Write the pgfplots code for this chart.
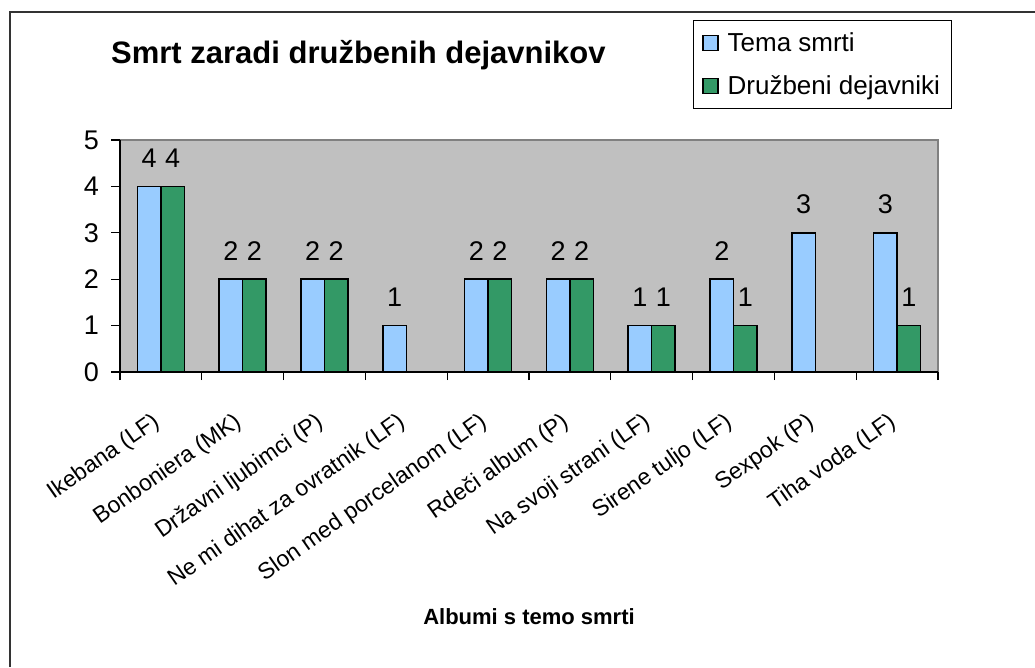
\documentclass[border=0pt]{standalone}
\usepackage{pgfplots}
\pgfplotsset{compat=1.18}
\usepackage{fontspec}
\setmainfont{Liberation Sans}
\definecolor{barblue}{HTML}{99CCFF}
\definecolor{bargreen}{HTML}{339966}
\definecolor{plotgray}{HTML}{C0C0C0}
\definecolor{bordergray}{HTML}{808080}
\newcommand{\fs}[1]{\fontsize{#1}{#1}\selectfont}
\begin{document}
\begin{tikzpicture}[x=1pt,y=1pt]
\path[use as bounding box] (0,0) rectangle (1035,667);
\draw[line width=1.5pt, black!80] (10,0) -- (10,655) -- (1035,655);
\node[anchor=west, inner sep=0pt, font=\fs{31}\bfseries] at (111,612) {Smrt zaradi družbenih dejavnikov};
\begin{axis}[
  at={(120pt,295pt)}, anchor=south west,
  scale only axis, width=818pt, height=232pt,
  ybar=0pt, bar width=23.5pt,
  xmin=0.5, xmax=10.5, ymin=0, ymax=5,
  ytick={0,1,2,3,4,5},
  xtick={1,...,10},
  minor xtick={0.5,1.5,...,10.5},
  xticklabels={Ikebana (LF),Bonboniera (MK),Državni ljubimci (P),Ne mi dihat za ovratnik (LF),Slon med porcelanom (LF),Rdeči album (P),Na svoji strani (LF),Sirene tuljo (LF),Sexpok (P),Tiha voda (LF)},
  /pgf/number format/assume math mode=true,
  tick align=outside,
  major tick length=9pt, minor tick length=8pt,
  major x tick style={draw=none},
  tick style={black, line width=1.3pt},
  axis x line*=bottom, axis y line*=left,
  axis line style={black, line width=1.3pt, -},
  axis background/.style={fill=plotgray, draw=bordergray, line width=1.3pt},
  yticklabel style={font=\fs{27}, inner sep=0pt, anchor=east, xshift=-12pt},
  xticklabel style={font=\fs{23}, inner sep=0pt, yshift=-30pt, xshift=-10pt, rotate=35, anchor=north east},
  xlabel={Albumi s temo smrti},
  xlabel style={font=\fs{22}\bfseries, at={(axis description cs:0.5,-1.054)}, anchor=center},
  nodes near coords,
  every node near coord/.append style={font=\fs{27}, inner sep=0pt, anchor=south, yshift=18pt},
  every axis plot post/.append style={legend image code/.code={\draw[#1, line width=1.2pt] (0pt,-7.5pt) rectangle (15pt,7.5pt);}},
  legend style={at={(axis description cs:0.7005,1.517)}, anchor=north west, draw=black, line width=0.8pt, fill=white, font=\fs{26}, inner xsep=9pt, inner ysep=10pt, row sep=19pt, /tikz/every odd column/.append style={column sep=7pt}},
  legend cell align=left,
  clip=false,
]
\addplot[draw=black, line width=1.5pt, fill=barblue] coordinates {(1,4) (2,2) (3,2) (4,1) (5,2) (6,2) (7,1) (8,2) (9,3) (10,3)};
\addplot[draw=black, line width=1.5pt, fill=bargreen] coordinates {(1,4) (2,2) (3,2) (5,2) (6,2) (7,1) (8,1) (10,1)};
\legend{Tema smrti, Družbeni dejavniki}
\end{axis}
\end{tikzpicture}
\end{document}
